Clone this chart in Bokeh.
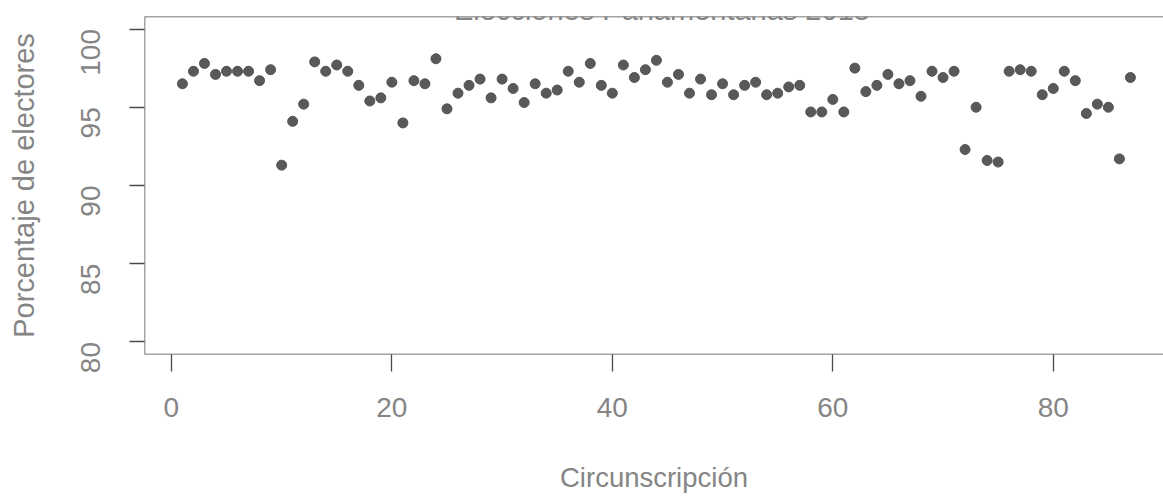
import math
from bokeh.plotting import figure
from bokeh.models import Range1d, FixedTicker, Span, Label
from bokeh.embed import file_html
from bokeh.resources import INLINE

circunscripcion = list(range(1, 88))
porcentaje = [
    96.5, 97.3, 97.8, 97.1, 97.3, 97.3, 97.3, 96.7, 97.4, 91.3,
    94.1, 95.2, 97.9, 97.3, 97.7, 97.3, 96.4, 95.4, 95.6, 96.6,
    94.0, 96.7, 96.5, 98.1, 94.9, 95.9, 96.4, 96.8, 95.6, 96.8,
    96.2, 95.3, 96.5, 95.9, 96.1, 97.3, 96.6, 97.8, 96.4, 95.9,
    97.7, 96.9, 97.4, 98.0, 96.6, 97.1, 95.9, 96.8, 95.8, 96.5,
    95.8, 96.4, 96.6, 95.8, 95.9, 96.3, 96.4, 94.7, 94.7, 95.5,
    94.7, 97.5, 96.0, 96.4, 97.1, 96.5, 96.7, 95.7, 97.3, 96.9,
    97.3, 92.3, 95.0, 91.6, 91.5, 97.3, 97.4, 97.3, 95.8, 96.2,
    97.3, 96.7, 94.6, 95.2, 95.0, 91.7, 96.9,
]
x_ticks = [0, 20, 40, 60, 80]
y_ticks = [80, 85, 90, 95, 100]
titulo = "Elecciones Parlamentarias 2015"
x_titulo = "Circunscripción"
y_titulo = "Porcentaje de electores"

FONT = "Liberation Sans"
TXT = "#858585"
LINE = "#4a4a4a"

x0, x1 = -2.44, 90.0
y0, y1 = 79.2, 100.8

p = figure(
    width=1163, height=497,
    frame_width=1019, frame_height=338,
    min_border_left=144, min_border_right=0,
    min_border_top=16, min_border_bottom=143,
    x_range=Range1d(x0, x1), y_range=Range1d(y0, y1),
    output_backend="svg", toolbar_location=None,
    x_axis_label=x_titulo, y_axis_label=y_titulo,
)
p.outline_line_color = None
p.xgrid.visible = False
p.ygrid.visible = False
p.background_fill_color = "white"
p.border_fill_color = "white"

for ax in (p.xaxis[0], p.yaxis[0]):
    ax.axis_line_color = None
    ax.major_tick_line_color = LINE
    ax.major_tick_line_width = 1.3
    ax.major_tick_in = 0
    ax.minor_tick_line_color = None
    ax.major_label_text_font = FONT
    ax.major_label_text_color = TXT
    ax.major_label_text_font_size = "28px"
    ax.axis_label_text_font = FONT
    ax.axis_label_text_color = TXT
    ax.axis_label_text_font_style = "normal"

p.xaxis[0].ticker = FixedTicker(ticks=x_ticks)
p.xaxis[0].major_tick_out = 17
p.xaxis[0].major_label_standoff = 26
p.xaxis[0].axis_label_standoff = 42
p.xaxis[0].axis_label_text_font_size = "27.5px"

p.yaxis[0].ticker = FixedTicker(ticks=y_ticks)
p.yaxis[0].major_tick_out = 15
p.yaxis[0].major_label_standoff = 39
p.yaxis[0].major_label_orientation = math.pi / 2
p.yaxis[0].axis_label_standoff = 29
p.yaxis[0].axis_label_text_font_size = "29px"

for loc in (y0, y1):
    p.add_layout(Span(location=loc, dimension="width", line_color=LINE, line_width=1.5))
p.add_layout(Span(location=x0, dimension="height", line_color=LINE, line_width=1.5))

p.scatter(circunscripcion, porcentaje, size=10, color="#505050", alpha=0.95)

p.add_layout(Label(x=44.5, y=344.5, y_units="screen", text=titulo, text_align="center",
                   text_baseline="alphabetic", text_font=FONT,
                   text_font_size="29px", text_color=TXT))

open("out.html", "w").write(file_html(p, INLINE))
